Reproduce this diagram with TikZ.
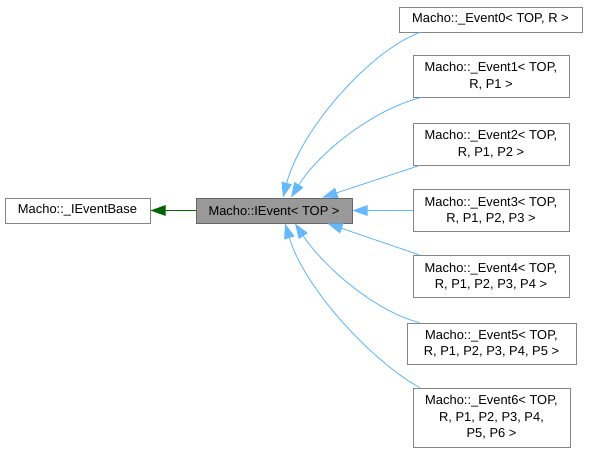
\documentclass[tikz,border=0pt]{standalone}
\usepackage{fontspec}
\setmainfont{Liberation Sans}
\usetikzlibrary{arrows.meta}
\definecolor{edgeblue}{HTML}{63B8FF}
\definecolor{edgegreen}{HTML}{006400}
\definecolor{boxline}{HTML}{858585}
\definecolor{boxfill}{HTML}{999999}

\begin{document}
\begin{tikzpicture}[
  x=1pt, y=-1pt,
  every node/.style={rectangle, draw=boxline, fill=white, line width=1pt, inner sep=0pt,
    align=center, font=\fontsize{12.9}{16.5}\selectfont},
  current/.style={fill=boxfill, draw=black!60},
  pub/.style={draw=edgeblue, line width=0.9pt, -{Triangle[length=15pt,width=10.5pt]}},
  prot/.style={draw=edgegreen, line width=0.9pt, -{Triangle[length=15pt,width=10.5pt]}}
]
\useasboundingbox (0,0) rectangle (589,453);
\node[minimum width=145pt, minimum height=25pt] (base) at (77.5,210.5) {Macho::\_IEventBase};
\node[current, minimum width=156pt, minimum height=25pt] (iev) at (274,210.5) {Macho::IEvent< TOP >};
\node[minimum width=183pt, minimum height=25pt] (ev0) at (490.5,19.5) {Macho::\_Event0< TOP, R >};
\node[minimum width=156pt, minimum height=42pt] (ev1) at (491,76) {Macho::\_Event1< TOP,\\R, P1 >};
\node[minimum width=156pt, minimum height=42pt] (ev2) at (491,144) {Macho::\_Event2< TOP,\\R, P1, P2 >};
\node[minimum width=156pt, minimum height=42pt] (ev3) at (491,210.5) {Macho::\_Event3< TOP,\\R, P1, P2, P3 >};
\node[minimum width=156pt, minimum height=42pt] (ev4) at (491,276.5) {Macho::\_Event4< TOP,\\R, P1, P2, P3, P4 >};
\node[minimum width=169pt, minimum height=41pt] (ev5) at (491.5,343.5) {Macho::\_Event5< TOP,\\R, P1, P2, P3, P4, P5 >};
\node[minimum width=157pt, minimum height=59pt] (ev6) at (491.5,417.5) {Macho::\_Event6< TOP,\\R, P1, P2, P3, P4,\hspace*{2em}\\P5, P6 >};

% inheritance edges
\draw[prot] (iev.west) -- (base.east);
\draw[pub] ([xshift=21pt]ev0.south west) .. controls +(-52,20) and +(17,-66) .. ([xshift=9pt]iev.north);
\draw[pub] ([xshift=9pt]ev1.south west) .. controls +(-44,10) and +(29,-47) .. ([xshift=17pt]iev.north);
\draw[pub] ([xshift=7pt]ev2.south west) -- ([xshift=-30pt]iev.north east);
\draw[pub] (ev3.west) -- (iev.east);
\draw[pub] ([xshift=7pt]ev4.north west) -- ([xshift=-25pt]iev.south east);
\draw[pub] ([xshift=13pt]ev5.north west) .. controls +(-42,-10) and +(30,45) .. ([xshift=21pt]iev.south);
\draw[pub] ([xshift=7pt]ev6.north west) .. controls +(-47,-26) and +(20,66) .. ([xshift=11pt]iev.south);
\end{tikzpicture}
\end{document}
